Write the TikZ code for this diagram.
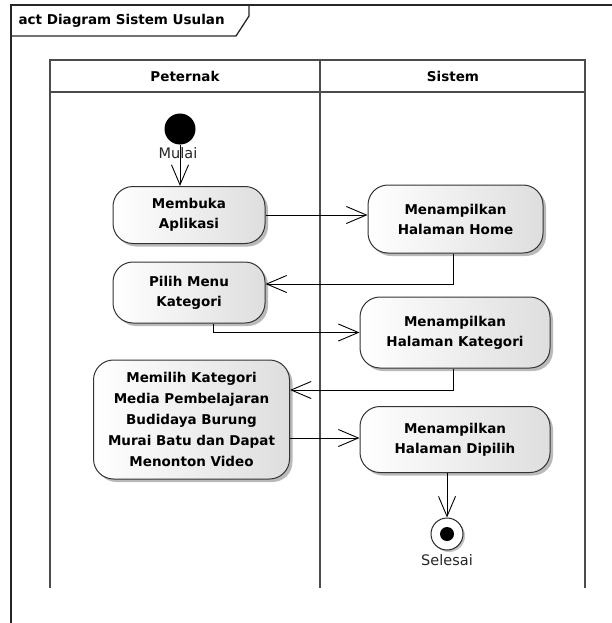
\documentclass[tikz,border=0pt]{standalone}
\usepackage{fontspec}
\setmainfont{DejaVu Sans}
\usetikzlibrary{arrows.meta,shadows}
\begin{document}
\begin{tikzpicture}[x=1pt,y=-1pt,
  frameline/.style={line width=1.3pt, black!85},
  laneline/.style={line width=1.8pt, black!70},
  action/.style={draw=black!80, line width=1pt, rounded corners=20pt,
    left color=white, right color=black!13, align=center,
    font=\fontsize{13.5}{20}\selectfont\bfseries, inner sep=2pt,
    drop shadow={shadow xshift=3pt, shadow yshift=-3pt, opacity=0.45, fill=black!60}},
  flow/.style={line width=0.9pt, -{Straight Barb[length=20pt,width=17pt,line width=0.9pt]}},
  lbl/.style={font=\fontsize{14.5}{16}\selectfont, text=black!85},
  hdr/.style={font=\fontsize{13.5}{16}\selectfont\bfseries}
]
\useasboundingbox (0,0) rectangle (612,623);

% outer activity frame with its name tab
\draw[frameline] (11,623) -- (11,5) -- (612,5);
\draw[frameline] (11,36) -- (236,36) -- (249,16) -- (249,5);
\node[hdr, anchor=west] (title) at (15,20.5) {act Diagram Sistem Usulan};

% swimlanes
\draw[laneline] (50,588) -- (50,60) -- (585,60) -- (585,588);
\draw[laneline] (50,92) -- (585,92);
\draw[laneline] (320,60) -- (320,588);
\node[hdr] (lane1) at (185,76) {Peternak};
\node[hdr] (lane2) at (453,76) {Sistem};

% initial and final nodes
\node[circle, fill=black, minimum size=31pt, inner sep=0pt] (start) at (180,129) {};
\node[circle, draw=black!85, line width=1pt, fill=white, minimum size=32pt, inner sep=0pt,
  drop shadow={shadow xshift=2pt, shadow yshift=-2pt, opacity=0.4, fill=black!60}] (stop) at (447,534) {};
\node[circle, fill=black, minimum size=14pt, inner sep=0pt] (stopdot) at (stop) {};

% actions
\node[action, minimum width=152pt, minimum height=57pt] (buka) at (189,215) {Membuka\\Aplikasi};
\node[action, minimum width=175pt, minimum height=68pt] (home) at (455.5,219) {Menampilkan\\Halaman Home};
\node[action, minimum width=152pt, minimum height=61pt] (menu) at (189,292.5) {Pilih Menu\\Kategori};
\node[action, minimum width=190pt, minimum height=71pt] (kat) at (455,332.5) {Menampilkan\\Halaman Kategori};
\node[action, minimum width=196pt, minimum height=119pt, font=\fontsize{13.5}{21}\selectfont\bfseries] (pilih) at (191.5,419.5)
  {Memilih Kategori\\Media Pembelajaran\\Budidaya Burung\\Murai Batu dan Dapat\\Menonton Video};
\node[action, minimum width=190pt, minimum height=66pt] (dipilih) at (455,439.5) {Menampilkan\\Halaman Dipilih};

% control flows
\draw[flow] (start) -- (start |- buka.north);
\node[lbl] (mulai) at (178,153) {Mulai};
\draw[flow] (buka.east) -- (buka.east -| home.west);
\draw[flow] ([xshift=-2pt]home.south) |- ([yshift=8.5pt]menu.east);
\draw[flow] ([xshift=24pt]menu.south) |- (kat.west);
\draw[flow] ([xshift=-2pt]kat.south) |- ([yshift=29.5pt]pilih.east);
\draw[flow] ([yshift=-18.5pt]pilih.east) -- ([yshift=-18.5pt]pilih.east -| dipilih.west);
\draw[flow] (dipilih.south -| stop) -- (stop.north);
\node[lbl] (selesai) at (447,560) {Selesai};
\end{tikzpicture}
\end{document}
